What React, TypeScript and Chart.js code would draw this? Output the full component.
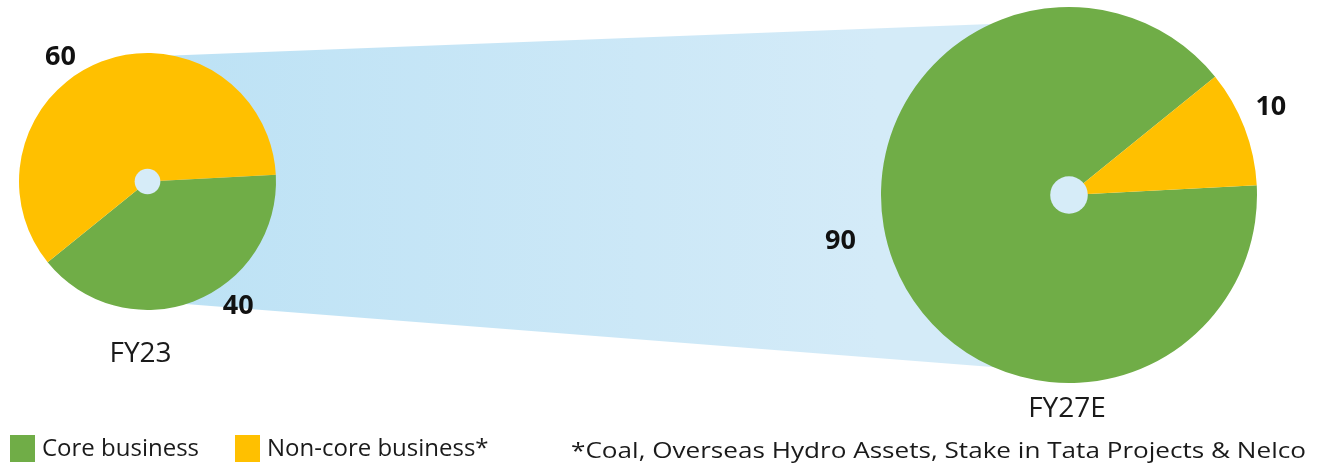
import React, { useEffect, useRef } from "react";
import { Chart, registerables } from "chart.js";

Chart.register(...registerables);

// ---- data ----
const categories = ["FY23", "FY27E"];
const seriesLabels = ["Core business", "Non-core business*"];
const fy23Values = [40, 60];
const fy27Values = [90, 10];
const footnote = "*Coal, Overseas Hydro Assets, Stake in Tata Projects & Nelco";

// ---- style ----
const COLORS = ["#70ad47", "#ffc000"];
const HOLE = "#d6ecf8";
const FONT = "'Open Sans', 'Noto Sans', sans-serif";
const W = 1317;
const H = 466;

type PieStyle = {
  padding: { left: number; top: number; right: number; bottom: number };
  labelAngles: number[]; // degrees, canvas convention
  labelDist: number[]; // multiples of outer radius
  catOffset: { dx: number; dy: number };
};

const leftStyle: PieStyle = {
  padding: { left: 19, top: 53, right: W - 276, bottom: H - 310 },
  labelAngles: [54, 235],
  labelDist: [1.2, 1.18],
  catOffset: { dx: -7, dy: 173 },
};
const rightStyle: PieStyle = {
  padding: { left: 881, top: 7, right: W - 1257, bottom: H - 383 },
  labelAngles: [168.6, -23.4],
  labelDist: [1.24, 1.17],
  catOffset: { dx: -2, dy: 214 },
};

function pieDecor(category: string, style: PieStyle, drawExtras: boolean) {
  return {
    id: "decor-" + category,
    beforeDatasetsDraw(chart: any) {
      if (!drawExtras) return;
      const ctx = chart.ctx;
      ctx.save();
      const g = ctx.createLinearGradient(180, 0, 880, 0);
      g.addColorStop(0, "#bde2f5");
      g.addColorStop(1, "#d4ebf8");
      ctx.fillStyle = g;
      ctx.beginPath();
      ctx.moveTo(147, 56.6);
      ctx.lineTo(1069, 21);
      ctx.lineTo(1069, 373);
      ctx.lineTo(147, 301);
      ctx.closePath();
      ctx.fill();
      ctx.restore();
    },
    afterDatasetsDraw(chart: any) {
      const ctx = chart.ctx;
      const meta = chart.getDatasetMeta(0);
      const arc = meta.data[0];
      const cx = arc.x;
      const cy = arc.y;
      const r = arc.outerRadius;
      ctx.save();
      // hole
      ctx.fillStyle = HOLE;
      ctx.beginPath();
      ctx.arc(cx, cy, r * 0.1, 0, Math.PI * 2);
      ctx.fill();
      // value labels
      ctx.fillStyle = "#111";
      ctx.font = `bold 27px ${FONT}`;
      ctx.textAlign = "center";
      ctx.textBaseline = "middle";
      const vals = chart.data.datasets[0].data as number[];
      vals.forEach((v, i) => {
        const a = (style.labelAngles[i] * Math.PI) / 180;
        const d = r * style.labelDist[i];
        ctx.fillText(String(v), cx + d * Math.cos(a), cy + d * Math.sin(a));
      });
      // category label
      ctx.font = `28px ${FONT}`;
      ctx.fillStyle = "#1a1a1a";
      ctx.fillText(category, cx + style.catOffset.dx, cy + style.catOffset.dy);

      if (drawExtras) {
        // legend
        ctx.textAlign = "left";
        ctx.font = `24px ${FONT}`;
        const legendX = [10, 235];
        seriesLabels.forEach((lab, i) => {
          ctx.fillStyle = COLORS[i];
          ctx.fillRect(legendX[i], 435, 25, 27);
          ctx.fillStyle = "#1a1a1a";
          ctx.fillText(lab, legendX[i] + 32, 449);
        });
        // footnote (wide face)
        ctx.font = `21px ${FONT}`;
        const wMeasured = ctx.measureText(footnote).width;
        ctx.translate(571, 452);
        ctx.scale(735 / wMeasured, 1);
        ctx.fillText(footnote, 0, 0);
      }
      ctx.restore();
    },
  };
}

function makePie(canvas: HTMLCanvasElement, values: number[], category: string, style: PieStyle, extras: boolean) {
  return new Chart(canvas, {
    type: "pie",
    data: {
      labels: seriesLabels,
      datasets: [
        {
          data: values,
          backgroundColor: COLORS,
          borderWidth: 0,
        },
      ],
    },
    options: {
      responsive: false,
      animation: false,
      devicePixelRatio: 1,
      rotation: 87,
      layout: { padding: style.padding },
      plugins: {
        legend: { display: false },
        tooltip: { enabled: false },
      },
    },
    plugins: [pieDecor(category, style, extras)],
  } as any);
}

export default function App() {
  const leftRef = useRef<HTMLCanvasElement>(null);
  const rightRef = useRef<HTMLCanvasElement>(null);

  useEffect(() => {
    const c1 = makePie(leftRef.current!, fy23Values, categories[0], leftStyle, true);
    const c2 = makePie(rightRef.current!, fy27Values, categories[1], rightStyle, false);
    return () => {
      c1.destroy();
      c2.destroy();
    };
  }, []);

  const canvasStyle: React.CSSProperties = { position: "absolute", left: 0, top: 0 };
  return (
    <div style={{ position: "absolute", left: 0, top: 0, width: W, height: H, background: "#fff" }}>
      <canvas ref={leftRef} width={W} height={H} style={canvasStyle} />
      <canvas ref={rightRef} width={W} height={H} style={canvasStyle} />
    </div>
  );
}
